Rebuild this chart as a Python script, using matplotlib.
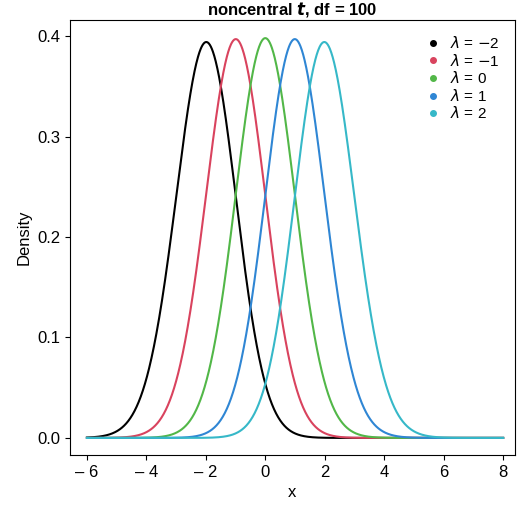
import numpy as np
import matplotlib
matplotlib.use("Agg")
import matplotlib.pyplot as plt
from math import lgamma

plt.rcParams['font.family'] = ['Liberation Sans', 'DejaVu Sans']
plt.rcParams['mathtext.fontset'] = 'dejavusans'

df = 100
lambdas = [-2, -1, 0, 1, 2]
labels = [r"$\lambda$ = $-$2", r"$\lambda$ = $-$1", r"$\lambda$ = 0", r"$\lambda$ = 1", r"$\lambda$ = 2"]
colors = ["#000000", "#D9435E", "#52B748", "#2F86D4", "#36B8C8"]

x = np.linspace(-6, 8, 1200)
v = np.linspace(20, 220, 4000)
dv = v[1] - v[0]
logfv = (df/2 - 1)*np.log(v) - v/2 - (df/2)*np.log(2) - lgamma(df/2)
fv = np.exp(logfv)
s = np.sqrt(v/df)

def pdf(t, lam):
    z = t[:, None]*s[None, :] - lam
    phi = np.exp(-z**2/2)/np.sqrt(2*np.pi)
    return (fv[None, :]*s[None, :]*phi).sum(axis=1)*dv

fig = plt.figure(figsize=(5.2, 5.07), dpi=100)
ax = fig.add_axes([70/520, 52/507, 445/520, 435/507])
for lam, lab, c in zip(lambdas, labels, colors):
    ax.plot(x, pdf(x, lam), color=c, lw=1.5, label=lab)
ax.set_xlim(-6.57, 8.4)
ax.set_ylim(-0.017, 0.416)
ax.set_xticks(range(-6, 9, 2))
ax.set_xticklabels(["\u2013 6", "\u2013 4", "\u2013 2", "0", "2", "4", "6", "8"])
ax.set_yticks([0, 0.1, 0.2, 0.3, 0.4])
ax.set_yticklabels(["0.0", "0.1", "0.2", "0.3", "0.4"])
ax.tick_params(labelsize=12)
ax.set_xlabel("x", fontsize=12)
ax.set_ylabel("Density", fontsize=12)
ax.set_title(r"noncentral $\boldsymbol{t}$, df = 100", fontsize=12, fontweight="bold", pad=4)
handles = [plt.Line2D([], [], marker="o", ms=4, ls="", color=c) for c in colors]
ax.legend(handles, labels, loc="upper right", frameon=False, fontsize=11,
          handletextpad=0.1, labelspacing=0.1, borderaxespad=0.6)
fig.savefig("out.png", dpi=100)
